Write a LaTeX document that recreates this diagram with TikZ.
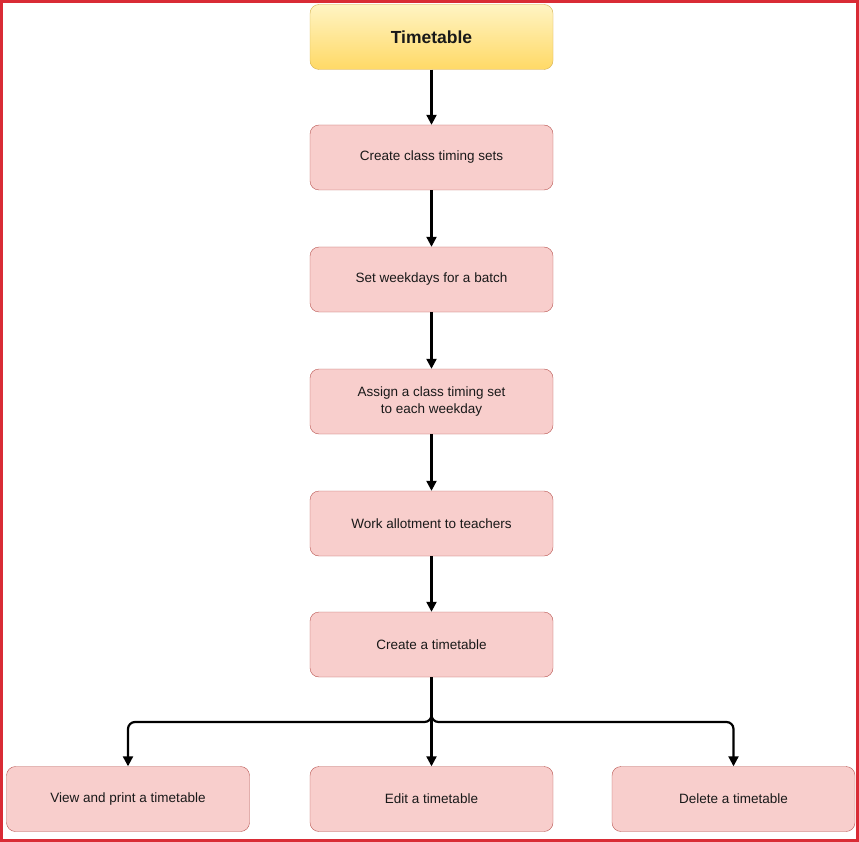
\documentclass[tikz,border=0pt]{standalone}
\usepackage{fontspec}
\setmainfont{Liberation Sans}
\usetikzlibrary{arrows.meta, calc}
\definecolor{boxfill}{HTML}{F8CECC}
\definecolor{boxline}{HTML}{B85450}
\definecolor{headtop}{HTML}{FFF4C3}
\definecolor{headbot}{HTML}{FFD966}
\definecolor{headline}{HTML}{D6B656}
\definecolor{frame}{HTML}{D92B35}

\begin{document}
\begin{tikzpicture}[x=1pt, y=-1pt,
    stepbox/.style={draw=boxline, fill=boxfill, rounded corners=9pt, minimum width=243pt, minimum height=65pt, align=center, font=\fontsize{13.5}{17}\selectfont, text=black!90},
    headbox/.style={stepbox, draw=headline, top color=headtop, bottom color=headbot, font=\fontsize{17.5}{20}\selectfont\bfseries},
    arr/.style={line width=2.2pt, -{Triangle[length=10pt, width=10pt]}}]
    \useasboundingbox (0, 0) rectangle (859, 842);
    \draw[frame, line width=3pt] (1.5, 1.5) rectangle (857.5, 840.5);

    % Main column
    \node[headbox] (tt) at (431.5, 37) {Timetable};
    \node[stepbox] (cts) at (431.5, 157.5) {Create class timing sets};
    \node[stepbox] (swd) at (431.5, 279.5) {Set weekdays for a batch};
    \node[stepbox] (act) at (431.5, 401.5) {Assign a class timing set\\to each weekday};
    \node[stepbox] (wat) at (431.5, 523.5) {Work allotment to teachers};
    \node[stepbox] (cat) at (431.5, 644.5) {Create a timetable};

    \draw[arr] (tt) -- (cts);
    \draw[arr] (cts) -- (swd);
    \draw[arr] (swd) -- (act);
    \draw[arr] (act) -- (wat);
    \draw[arr] (wat) -- (cat);

    % Bottom row
    \node[stepbox] (vpt) at (128, 799) {View and print a timetable};
    \node[stepbox] (eat) at (431.5, 799) {Edit a timetable};
    \node[stepbox] (dat) at (733.5, 799) {Delete a timetable};

    \coordinate (split) at (431.5, 722);
    \draw[arr, rounded corners=7pt] (cat) -- (split) -| (vpt);
    \draw[arr] (cat) -- (eat);
    \draw[arr, rounded corners=7pt] (cat) -- (split) -| (dat);
\end{tikzpicture}
\end{document}
